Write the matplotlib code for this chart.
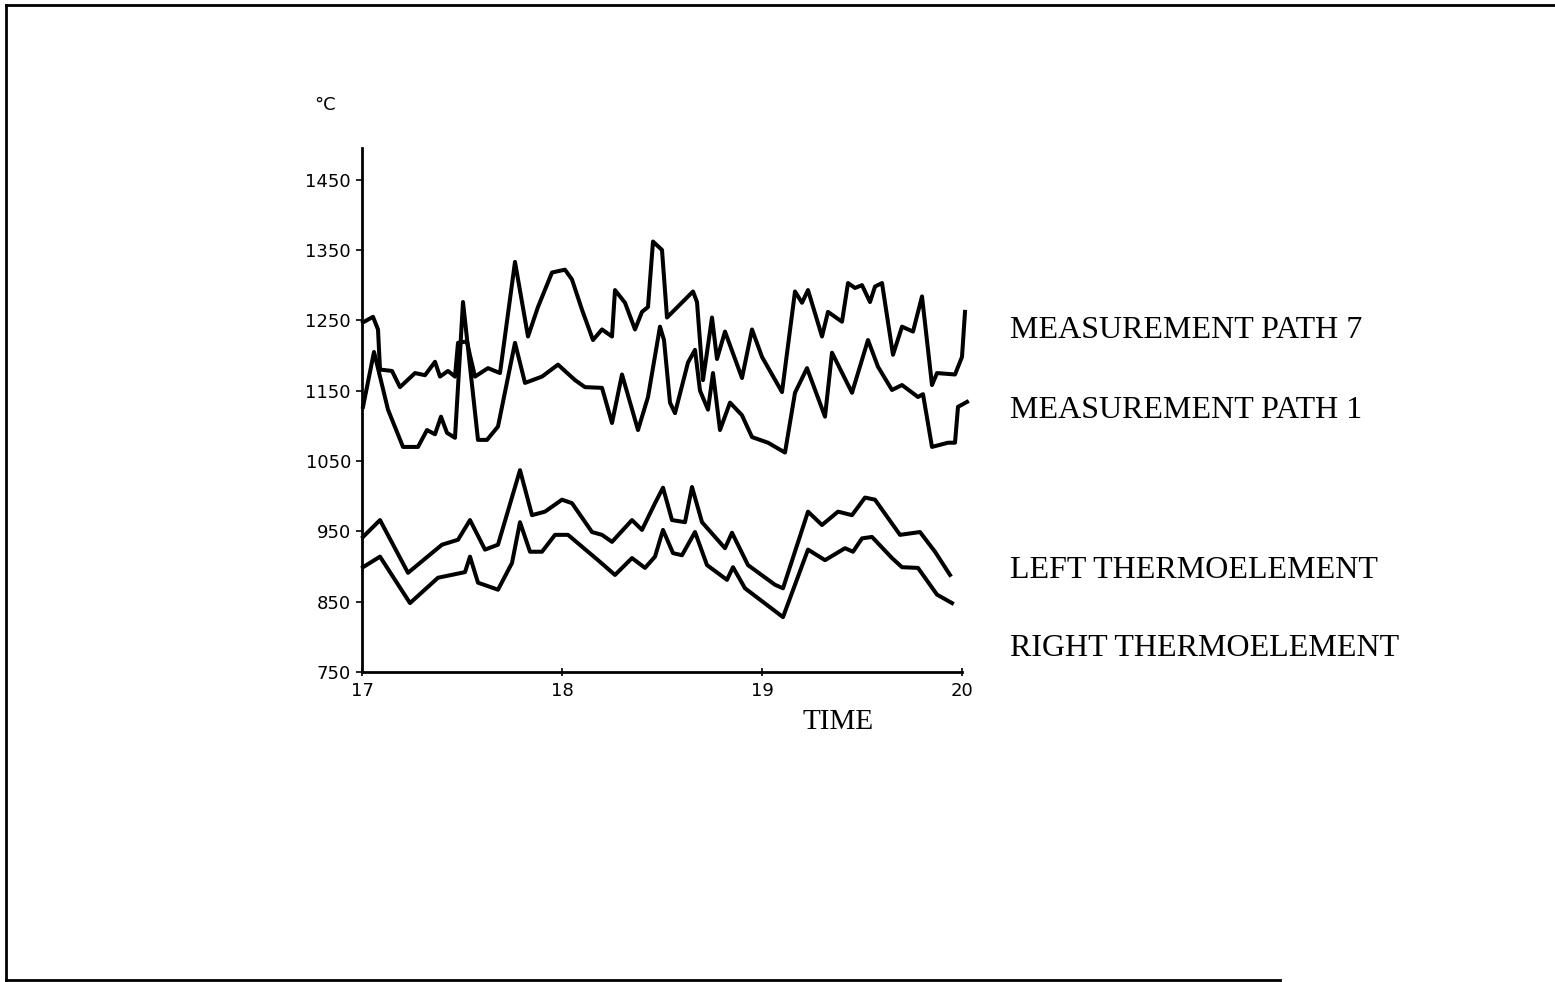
import matplotlib
matplotlib.use("Agg")
import matplotlib.pyplot as plt
from matplotlib.lines import Line2D

# Measurement path 7 (upper trace)
t_path7 = [17.005, 17.055, 17.08, 17.09, 17.15, 17.19, 17.265, 17.315, 17.365, 17.39,
           17.43, 17.465, 17.48, 17.525, 17.54, 17.565, 17.63, 17.69, 17.765, 17.83,
           17.88, 17.95, 18.015, 18.05, 18.10, 18.155, 18.20, 18.25, 18.265, 18.315,
           18.365, 18.40, 18.43, 18.455, 18.50, 18.525, 18.655, 18.675, 18.705, 18.75,
           18.775, 18.815, 18.90, 18.95, 19.00, 19.10, 19.165, 19.20, 19.23, 19.30,
           19.33, 19.40, 19.43, 19.465, 19.50, 19.54, 19.565, 19.60, 19.655, 19.70,
           19.755, 19.80, 19.85, 19.875, 19.965, 20.00, 20.015]
v_path7 = [1247, 1255, 1237, 1180, 1178, 1155, 1175, 1172, 1191, 1170,
           1178, 1170, 1218, 1220, 1200, 1170, 1182, 1175, 1333, 1227,
           1269, 1318, 1322, 1308, 1265, 1222, 1237, 1227, 1293, 1275,
           1237, 1262, 1269, 1362, 1350, 1254, 1291, 1276, 1165, 1254,
           1195, 1234, 1168, 1237, 1198, 1148, 1291, 1275, 1293, 1227,
           1262, 1248, 1303, 1296, 1300, 1276, 1298, 1303, 1201, 1241,
           1234, 1284, 1158, 1175, 1173, 1198, 1262]

# Measurement path 1
t_path1 = [17.005, 17.06, 17.09, 17.13, 17.205, 17.28, 17.325, 17.365, 17.395, 17.425,
           17.465, 17.505, 17.58, 17.625, 17.68, 17.765, 17.815, 17.90, 17.98, 18.065,
           18.115, 18.20, 18.25, 18.30, 18.38, 18.43, 18.49, 18.51, 18.54, 18.565,
           18.63, 18.665, 18.69, 18.73, 18.755, 18.79, 18.84, 18.90, 18.95, 19.03,
           19.115, 19.165, 19.225, 19.315, 19.35, 19.45, 19.53, 19.58, 19.65, 19.70,
           19.78, 19.805, 19.85, 19.93, 19.965, 19.98, 20.025]
v_path1 = [1127, 1205, 1170, 1123, 1070, 1070, 1094, 1088, 1113, 1090,
           1083, 1276, 1080, 1080, 1099, 1218, 1161, 1170, 1187, 1165,
           1155, 1154, 1104, 1173, 1094, 1141, 1241, 1222, 1133, 1118,
           1190, 1208, 1150, 1123, 1175, 1094, 1133, 1115, 1084, 1076,
           1062, 1147, 1182, 1113, 1204, 1147, 1222, 1184, 1151, 1158,
           1141, 1145, 1070, 1076, 1076, 1127, 1134]

# Left thermoelement
t_left = [17.005, 17.09, 17.23, 17.40, 17.48, 17.54, 17.615, 17.68, 17.79, 17.85,
          17.915, 18.00, 18.05, 18.15, 18.20, 18.25, 18.35, 18.40, 18.465, 18.505,
          18.55, 18.615, 18.65, 18.70, 18.815, 18.85, 18.93, 19.065, 19.105, 19.23,
          19.30, 19.38, 19.45, 19.515, 19.565, 19.69, 19.79, 19.865, 19.94]
v_left = [942, 966, 891, 931, 938, 966, 924, 931, 1037, 973,
          978, 995, 990, 949, 945, 935, 966, 952, 990, 1012,
          966, 963, 1013, 963, 926, 948, 902, 874, 869, 978,
          959, 978, 973, 998, 995, 945, 949, 921, 888]

# Right thermoelement
t_right = [17.005, 17.09, 17.24, 17.38, 17.515, 17.54, 17.58, 17.68, 17.75, 17.79,
           17.84, 17.90, 17.965, 18.03, 18.13, 18.18, 18.265, 18.35, 18.415, 18.465,
           18.505, 18.555, 18.60, 18.665, 18.725, 18.825, 18.855, 18.915, 19.105, 19.23,
           19.315, 19.415, 19.455, 19.50, 19.55, 19.65, 19.70, 19.78, 19.875, 19.95]
v_right = [899, 914, 848, 884, 892, 914, 877, 867, 905, 963,
           921, 921, 945, 945, 921, 909, 888, 912, 898, 914,
           952, 919, 916, 949, 902, 881, 899, 869, 828, 924,
           909, 926, 921, 940, 942, 912, 899, 898, 860, 848]

yticks = [750, 850, 950, 1050, 1150, 1250, 1350, 1450]
xticks = [17, 18, 19, 20]
labels = ["MEASUREMENT PATH 7", "MEASUREMENT PATH 1", "LEFT THERMOELEMENT", "RIGHT THERMOELEMENT"]
label_y = [330, 410, 570, 648]  # pixel rows of the side labels

W, H = 1555, 982
fig = plt.figure(figsize=(W / 100, H / 100), dpi=100)
ax = fig.add_axes([362 / W, 1 - 672 / H, 600 / W, 524 / H])

for t, v in [(t_path7, v_path7), (t_path1, v_path1), (t_left, v_left), (t_right, v_right)]:
    ax.plot(t, v, color="black", lw=2.9, solid_joinstyle="round", clip_on=False)

ax.set_xlim(17, 20)
ax.set_ylim(750, 1495)
ax.set_xticks(xticks)
ax.set_yticks(yticks)
ax.spines["top"].set_visible(False)
ax.spines["right"].set_visible(False)
ax.spines["left"].set_linewidth(2.0)
ax.spines["bottom"].set_linewidth(2.0)
ax.tick_params(axis="y", direction="out", length=4, width=1.2, pad=4, labelsize=13)
ax.tick_params(axis="x", direction="inout", length=6, width=1.2, pad=4, labelsize=13)

serif = "Liberation Serif"
for txt, py in zip(labels, label_y):
    fig.text(1010 / W, 1 - py / H, txt, family=serif, fontsize=23, va="center", ha="left")
fig.text(838 / W, 1 - 722 / H, "TIME", family=serif, fontsize=21, va="center", ha="center")
fig.text(325 / W, 1 - 105 / H, "°C", fontsize=13, va="center", ha="center")

# scanned page border
fig.add_artist(Line2D([6 / W, 6 / W], [1 - 5 / H, 1 - 980 / H], transform=fig.transFigure, color="black", lw=2))
fig.add_artist(Line2D([6 / W, 1], [1 - 5 / H, 1 - 5 / H], transform=fig.transFigure, color="black", lw=2))
fig.add_artist(Line2D([6 / W, 1280 / W], [1 - 980 / H, 1 - 980 / H], transform=fig.transFigure, color="black", lw=2))

fig.savefig("out.png", dpi=100)
